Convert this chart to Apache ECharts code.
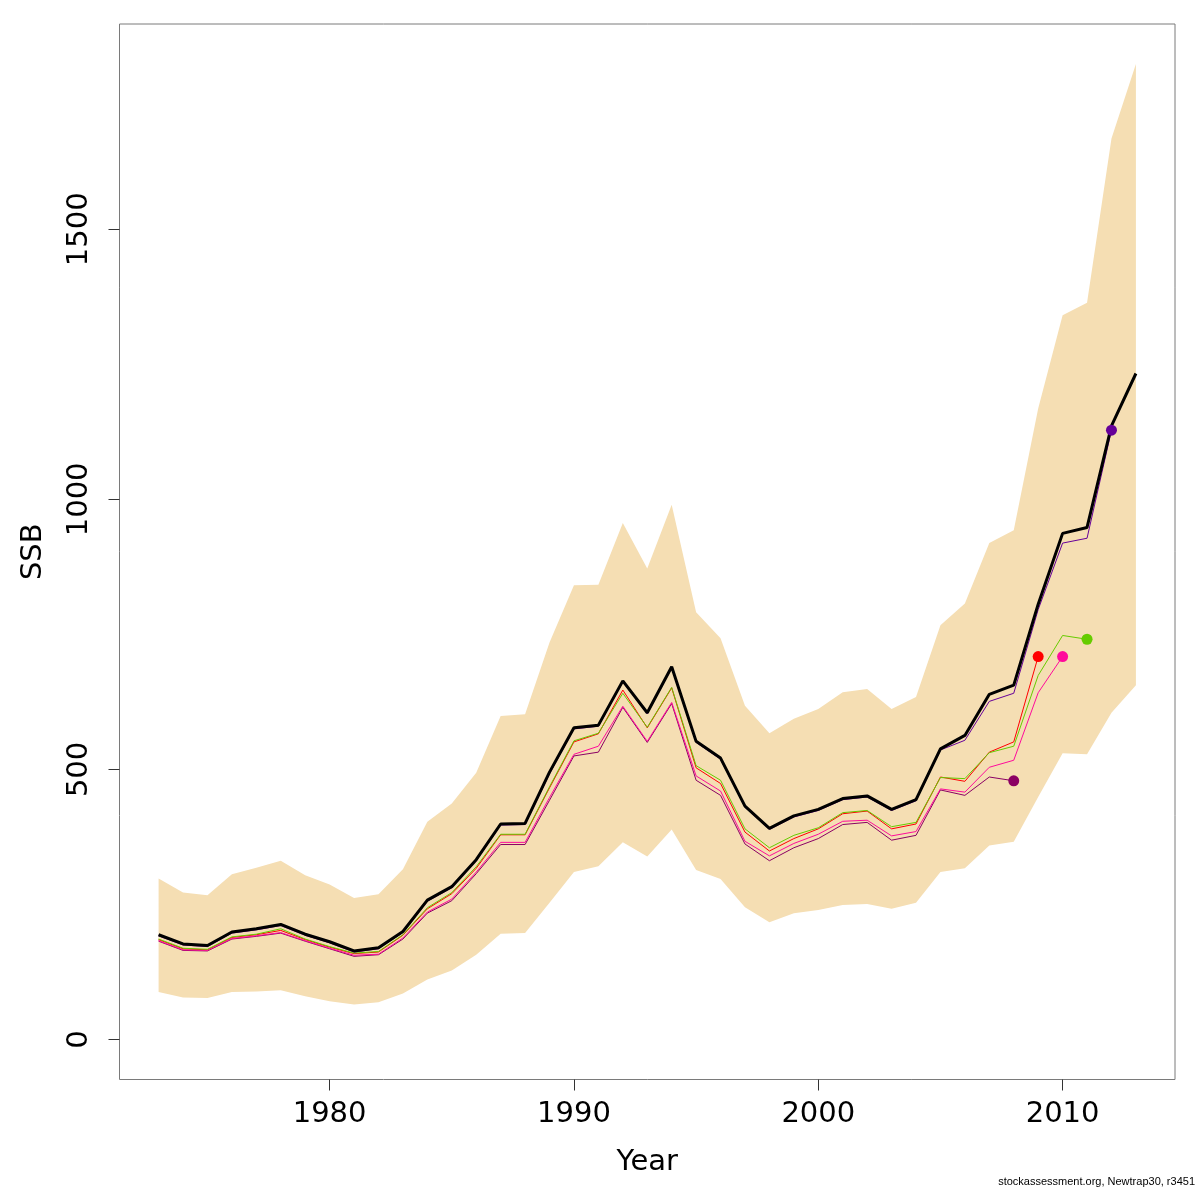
<!DOCTYPE html>
<html>
<head>
<meta charset="utf-8">
<title>SSB retro</title>
<script src="https://cdn.jsdelivr.net/npm/echarts@6/dist/echarts.min.js"></script>
<style>
  html, body { margin: 0; padding: 0; background: #fff; }
  #chart { width: 1200px; height: 1200px; }
</style>
</head>
<body>
<div id="chart"></div>
<script>
// years of the assessment
var years = [1973, 1974, 1975, 1976, 1977, 1978, 1979, 1980, 1981, 1982,
  1983, 1984, 1985, 1986, 1987, 1988, 1989, 1990, 1991, 1992,
  1993, 1994, 1995, 1996, 1997, 1998, 1999, 2000, 2001, 2002,
  2003, 2004, 2005, 2006, 2007, 2008, 2009, 2010, 2011, 2012, 2013];

// final run, SSB + confidence band
var ssb = [194, 177, 174, 199, 205, 213, 195, 181, 164, 170,
  200, 258, 283, 333, 399, 400, 495, 577, 582, 664,
  605, 690, 552, 521, 432, 391, 414, 426, 446, 451,
  426, 444, 538, 563, 639, 656, 806, 937, 948, 1136, 1233];
var ssbHigh = [298, 272, 267, 306, 318, 331, 304, 287, 262, 269,
  315, 403, 437, 494, 599, 602, 735, 841, 842, 956,
  872, 990, 791, 743, 618, 567, 594, 612, 643, 649,
  612, 634, 767, 807, 919, 943, 1168, 1341, 1364, 1668, 1806];
var ssbLow = [88, 78, 77, 88, 89, 91, 80, 71, 65, 69,
  85, 111, 128, 157, 196, 197, 253, 310, 321, 365,
  339, 389, 314, 297, 245, 217, 234, 240, 249, 251,
  242, 253, 310, 317, 359, 366, 449, 530, 528, 605, 656];

// retrospective peels (each starts 1973, ends at its last year)
var peel2012 = [192, 175, 172, 197, 203, 211, 193, 179, 162, 168,
  198, 256, 281, 331, 397, 398, 492, 575, 580, 662,
  603, 688, 550, 519, 430, 389, 412, 424, 444, 449,
  424, 442, 536, 554, 626, 641, 796, 919, 928, 1128];
var peel2011 = [186, 169, 167, 190, 195, 205, 186, 172, 160, 163,
  194, 244, 272, 320, 380, 380, 468, 553, 567, 641,
  578, 652, 507, 480, 390, 355, 378, 392, 420, 424,
  394, 402, 485, 483, 531, 543, 674, 748, 741];
var peel2010 = [183, 166, 165, 187, 192, 198, 183, 169, 156, 158,
  188, 236, 260, 310, 365, 365, 448, 528, 543, 617,
  552, 624, 488, 460, 367, 340, 363, 380, 404, 406,
  377, 385, 464, 458, 504, 517, 642, 709];
var peel2009 = [185, 168, 166, 189, 194, 202, 185, 171, 159, 162,
  193, 242, 270, 317, 379, 379, 466, 551, 566, 647,
  577, 651, 503, 474, 384, 349, 372, 390, 418, 423,
  390, 399, 486, 478, 532, 551, 709];
var peel2008 = [182, 165, 164, 186, 191, 197, 182, 168, 154, 157,
  186, 234, 257, 307, 361, 361, 443, 525, 532, 615,
  550, 622, 480, 452, 362, 331, 355, 372, 398, 402,
  369, 378, 462, 452, 486, 479];

var peels = [peel2008, peel2009, peel2010, peel2011, peel2012];
var peelColors = ['#8B0063', '#FF0000', '#FF0A9B', '#66CC00', '#660099'];

var xTicks = [1980, 1990, 2000, 2010];
var yTicks = [0, 500, 1000, 1500];

function pairs(vals) {
  var out = [];
  for (var i = 0; i < vals.length; i++) out.push([years[i], vals[i]]);
  return out;
}

var chart = echarts.init(document.getElementById('chart'));

var series = [];

// wheat confidence band as one polygon
series.push({
  type: 'custom',
  silent: true,
  z: 1,
  data: years.map(function (y, i) { return [y, ssbLow[i], ssbHigh[i]]; }),
  encode: { x: 0, y: [1, 2] },
  renderItem: function (params, api) {
    if (params.dataIndex !== 0) return null;
    var pts = [];
    for (var i = 0; i < years.length; i++) pts.push(api.coord([years[i], ssbHigh[i]]));
    for (var j = years.length - 1; j >= 0; j--) pts.push(api.coord([years[j], ssbLow[j]]));
    return { type: 'polygon', shape: { points: pts }, style: { fill: '#F5DEB3' } };
  }
});

// thin peel lines
peels.forEach(function (p, k) {
  series.push({
    type: 'line',
    data: pairs(p),
    showSymbol: false,
    z: 2,
    lineStyle: { color: peelColors[k], width: 1 },
    silent: true
  });
});

// main line on top
series.push({
  type: 'line',
  data: pairs(ssb),
  showSymbol: false,
  z: 3,
  lineStyle: { color: '#000', width: 3 },
  silent: true
});

// end-point dots of each peel
series.push({
  type: 'scatter',
  z: 4,
  symbolSize: 11,
  data: peels.map(function (p, k) {
    return { value: [years[p.length - 1], p[p.length - 1]], itemStyle: { color: peelColors[k], opacity: 1 } };
  })
});

var axisFont = 'DejaVu Sans';
var plain = function (v) { return String(v); };

chart.setOption({
  animation: false,
  backgroundColor: '#fff',
  grid: {
    left: 119.5, top: 24, right: 25, bottom: 120.5,
    show: true, borderColor: '#7a7a7a', borderWidth: 1, backgroundColor: 'transparent'
  },
  xAxis: {
    type: 'value',
    min: 1971.4, max: 2014.6,
    name: 'Year', nameLocation: 'middle', nameGap: 68,
    nameTextStyle: { fontFamily: axisFont, fontSize: 29, color: '#000' },
    axisLine: { show: false, onZero: false },
    splitLine: { show: false },
    axisTick: { show: true, length: 11, customValues: xTicks, lineStyle: { color: '#333', width: 1 } },
    axisLabel: { customValues: xTicks, formatter: plain, fontFamily: axisFont, fontSize: 29, color: '#000', margin: 20 }
  },
  yAxis: {
    type: 'value',
    min: -74, max: 1880,
    name: 'SSB', nameLocation: 'middle', nameGap: 72,
    nameTextStyle: { fontFamily: axisFont, fontSize: 29, color: '#000' },
    axisLine: { show: false, onZero: false },
    splitLine: { show: false },
    axisTick: { show: true, length: 11, customValues: yTicks, lineStyle: { color: '#333', width: 1 } },
    axisLabel: { customValues: yTicks, formatter: plain, rotate: 90, fontFamily: axisFont, fontSize: 29, color: '#000', margin: 26 }
  },
  graphic: [{
    type: 'text',
    right: 5, top: 1176,
    style: { text: 'stockassessment.org, Newtrap30, r3451', fontFamily: 'Liberation Sans', fontSize: 11, fill: '#000' }
  }],
  series: series
});
</script>
</body>
</html>
